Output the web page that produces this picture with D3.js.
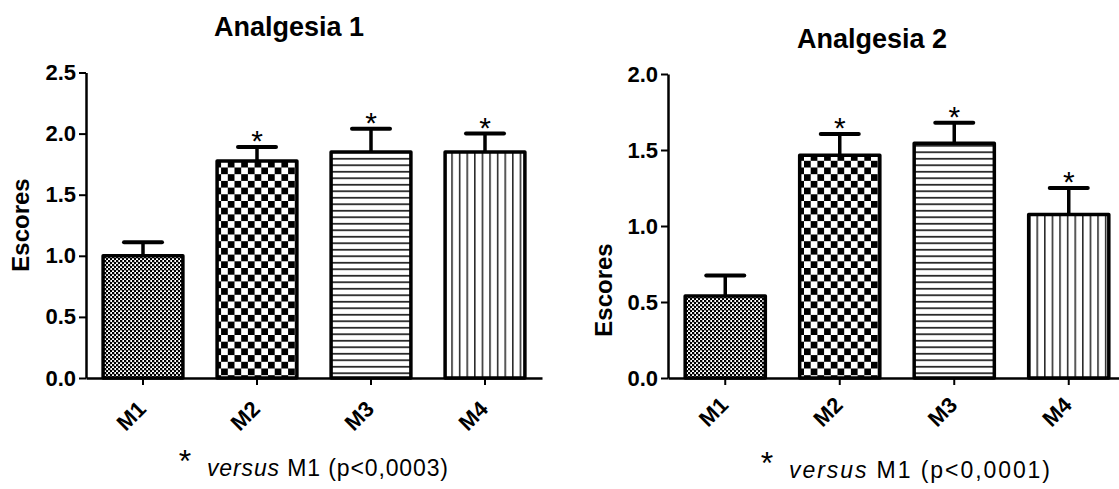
<!DOCTYPE html>
<html>
<head>
<meta charset="utf-8">
<script src="https://cdn.jsdelivr.net/npm/d3@7"></script>
<style>
  body { margin: 0; background: #fff; }
  svg { display: block; font-family: Arial, "Liberation Sans", sans-serif; }
</style>
</head>
<body>
<svg id="chart" width="1119" height="489"></svg>
<script>
var categories = ["M1", "M2", "M3", "M4"];
var titles = ["Analgesia 1", "Analgesia 2"];
var notes = ["versus M1 (p<0,0003)", "versus M1 (p<0,0001)"];

var mean1 = [1.0, 1.775, 1.85, 1.85];
var sem1 = [0.11, 0.115, 0.19, 0.15];
var mean2 = [0.54, 1.465, 1.545, 1.075];
var sem2 = [0.135, 0.14, 0.135, 0.175];
var signif = [false, true, true, true];

var yTicks1 = [0, 0.5, 1.0, 1.5, 2.0, 2.5];
var yTicks2 = [0, 0.5, 1.0, 1.5, 2.0];

var patterns = ["fine", "check", "hlines", "vlines"];

var svg = d3.select("#chart");
var defs = svg.append("defs");

// fill patterns
var p = defs.append("pattern").attr("id", "fine").attr("patternUnits", "userSpaceOnUse")
	.attr("width", 4).attr("height", 4);
p.append("rect").attr("width", 4).attr("height", 4).attr("fill", "#fff");
p.append("rect").attr("width", 2.3).attr("height", 2.3).attr("fill", "#000");
p.append("rect").attr("x", 2).attr("y", 2).attr("width", 2.3).attr("height", 2.3).attr("fill", "#000");

p = defs.append("pattern").attr("id", "check").attr("patternUnits", "userSpaceOnUse")
	.attr("width", 13.4).attr("height", 13.4);
p.append("rect").attr("width", 13.4).attr("height", 13.4).attr("fill", "#fff");
p.append("rect").attr("width", 6.7).attr("height", 6.7).attr("fill", "#000");
p.append("rect").attr("x", 6.7).attr("y", 6.7).attr("width", 6.7).attr("height", 6.7).attr("fill", "#000");

p = defs.append("pattern").attr("id", "hlines").attr("patternUnits", "userSpaceOnUse")
	.attr("width", 10).attr("height", 6.5);
p.append("rect").attr("width", 10).attr("height", 6.5).attr("fill", "#fff");
p.append("rect").attr("y", 2).attr("width", 10).attr("height", 1.5).attr("fill", "#000");

p = defs.append("pattern").attr("id", "vlines").attr("patternUnits", "userSpaceOnUse")
	.attr("width", 7.6).attr("height", 10);
p.append("rect").attr("width", 7.6).attr("height", 10).attr("fill", "#fff");
p.append("rect").attr("x", 3).attr("width", 1.3).attr("height", 10).attr("fill", "#000");

function panel(opt) {
	var x = d3.scaleBand().domain(categories).range([opt.x0, opt.x1])
		.paddingInner(0.3).paddingOuter(0.15);
	var y = d3.scaleLinear().domain([0, opt.ymax]).range([378, opt.ytop]);

	var g = svg.append("g");

	// bars
	g.selectAll(".bar")
		.data(opt.mean)
		.enter().append("rect")
		.attr("class", "bar")
		.attr("x", function (d, i) { return x(categories[i]); })
		.attr("y", function (d) { return y(d); })
		.attr("width", x.bandwidth())
		.attr("height", function (d) { return y(0) - y(d); })
		.attr("fill", function (d, i) { return "url(#" + patterns[i] + ")"; })
		.attr("stroke", "#000")
		.attr("stroke-width", 3.5)
		.attr("stroke-linejoin", "round");

	// error bars (upper only)
	opt.mean.forEach(function (d, i) {
		var cx = x(categories[i]) + x.bandwidth() / 2;
		var top = y(d + opt.sem[i]);
		g.append("line")
			.attr("x1", cx).attr("x2", cx)
			.attr("y1", y(d)).attr("y2", top)
			.attr("stroke", "#000").attr("stroke-width", 3.5);
		g.append("line")
			.attr("x1", cx - 19).attr("x2", cx + 19)
			.attr("y1", top).attr("y2", top)
			.attr("stroke", "#000").attr("stroke-width", 4)
			.attr("stroke-linecap", "round");
		if (signif[i]) {
			g.append("text")
				.attr("x", cx).attr("y", top + 4)
				.attr("text-anchor", "middle")
				.attr("font-size", 30)
				.text("*");
		}
	});

	// axes
	var ya = g.append("g")
		.attr("transform", "translate(" + opt.x0 + ",0)")
		.call(d3.axisLeft(y).tickValues(opt.yticks).tickFormat(d3.format(".1f"))
			.tickSize(7).tickSizeOuter(0).tickPadding(3));
	ya.select(".domain").attr("stroke-width", 2.5);
	ya.selectAll(".tick line").attr("stroke-width", 2);
	ya.selectAll(".tick text").attr("font-size", 22).attr("font-weight", "bold").attr("fill", "#000");

	var xa = g.append("g")
		.attr("transform", "translate(0,378)")
		.call(d3.axisBottom(x).tickSize(7).tickSizeOuter(0));
	xa.select(".domain").attr("stroke-width", 2.5);
	xa.selectAll(".tick line").attr("stroke-width", 2);
	xa.selectAll(".tick text").remove();
	xa.selectAll(".tick").append("text")
		.attr("transform", "translate(-1," + (opt.labY - 378) + ") rotate(-45)")
		.attr("text-anchor", "end")
		.attr("dy", "0.35em")
		.attr("font-size", 22)
		.attr("font-weight", "bold")
		.attr("fill", "#000")
		.text(function (d) { return d; });

	// titles
	svg.append("text")
		.attr("x", opt.titleX).attr("y", opt.titleY)
		.attr("text-anchor", "middle")
		.attr("font-size", 27).attr("font-weight", "bold")
		.text(opt.title);

	svg.append("text")
		.attr("transform", "translate(" + opt.escX + "," + opt.escY + ") rotate(-90)")
		.attr("text-anchor", "middle")
		.attr("dy", "0.35em")
		.attr("font-size", 24).attr("font-weight", "bold")
		.text("Escores");

	// footnote
	svg.append("text")
		.attr("x", opt.noteX - 22).attr("y", opt.noteY - 4)
		.attr("text-anchor", "middle")
		.attr("font-size", 32)
		.text("*");
	var t = svg.append("text")
		.attr("x", opt.noteX).attr("y", opt.noteY)
		.attr("font-size", 23)
		.attr("textLength", opt.noteW)
		.attr("lengthAdjust", "spacing");
	t.append("tspan").attr("font-style", "italic").text("versus");
	t.append("tspan").text(opt.note.replace("versus", ""));
}

panel({
	x0: 86, x1: 542, ymax: 2.5, ytop: 72.5, mean: mean1, sem: sem1, yticks: yTicks1,
	labY: 405, title: titles[0], titleX: 289, titleY: 36, escX: 21, escY: 225,
	note: notes[0], noteX: 207, noteY: 476, noteW: 241
});
panel({
	x0: 668, x1: 1126, ymax: 2.0, ytop: 74, mean: mean2, sem: sem2, yticks: yTicks2,
	labY: 401, title: titles[1], titleX: 872, titleY: 48, escX: 604, escY: 290,
	note: notes[1], noteX: 789, noteY: 478, noteW: 261
});
</script>
</body>
</html>
